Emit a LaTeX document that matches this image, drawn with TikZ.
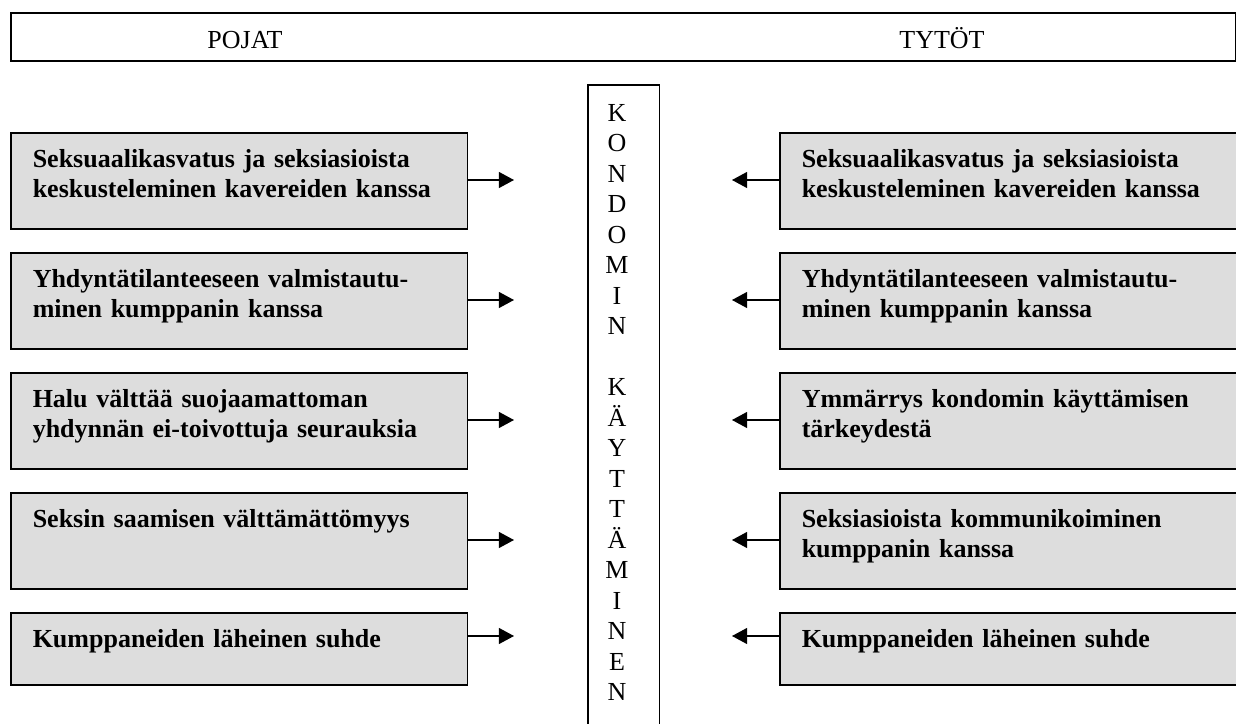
\documentclass[tikz,border=0pt]{standalone}
\usepackage{fontspec}
\setmainfont{Liberation Serif}
\usetikzlibrary{arrows.meta}
\definecolor{laatikkoharmaa}{RGB}{221,221,221}
\tikzset{
	kehys/.style={draw,line width=0.7pt,anchor=north west,inner sep=0pt},
	tekija/.style={draw,line width=0.7pt,fill=laatikkoharmaa,anchor=north west,
		inner xsep=10.15pt,inner ysep=0pt,text width=190.4pt,align=left,
		text height=16.15pt,text depth=28.15pt,
		font=\fontsize{12}{13.85}\selectfont\bfseries},
	nuoli/.style={line width=0.6pt,-{Triangle[length=7pt,width=7.4pt]}}
}

\begin{document}
\begin{tikzpicture}[x=0.4615pt,y=-0.4615pt,font=\fontsize{12}{13.85}\selectfont]

	\useasboundingbox (0,0) rectangle (1236,724);

				\node[kehys,minimum width=565.3pt,minimum height=22.15pt] (otsikko) at (10,12) {};
				\node[anchor=base] 	(pojat)		at (245,48)		{POJAT};
				\node[anchor=base] 	(tytot)		at (942,48)		{TYTÖT};

				\node[kehys,minimum width=33.2pt,minimum height=320pt] (kondomi) at (587,84) {};
				\node[align=center,inner sep=0pt,font=\fontsize{12}{14.08}\selectfont]
					(kirjaimet) at (617,402.5) {K\\O\\N\\D\\O\\M\\I\\N\\\mbox{}\\K\\Ä\\Y\\T\\T\\Ä\\M\\I\\N\\E\\N};

				% pojat
				\node[tekija]	(poika1)	at (10,132)		{Seksuaalikasvatus ja seksiasioista\\keskusteleminen kavereiden kanssa};
				\node[tekija]	(poika2)	at (10,252)		{Yhdyntätilanteeseen valmistautu-\\minen kumppanin kanssa};
				\node[tekija]	(poika3)	at (10,372)		{Halu välttää suojaamattoman\\yhdynnän ei-toivottuja seurauksia};
				\node[tekija]	(poika4)	at (10,492)		{Seksin saamisen välttämättömyys};
				\node[tekija,text depth=17.1pt]	(poika5)	at (10,612)		{Kumppaneiden läheinen suhde};

				% tytöt
				\node[tekija]	(tytto1)	at (779,132)	{Seksuaalikasvatus ja seksiasioista\\keskusteleminen kavereiden kanssa};
				\node[tekija]	(tytto2)	at (779,252)	{Yhdyntätilanteeseen valmistautu-\\minen kumppanin kanssa};
				\node[tekija]	(tytto3)	at (779,372)	{Ymmärrys kondomin käyttämisen\\tärkeydestä};
				\node[tekija]	(tytto4)	at (779,492)	{Seksiasioista kommunikoiminen\\kumppanin kanssa};
				\node[tekija,text depth=17.1pt]	(tytto5)	at (779,612)	{Kumppaneiden läheinen suhde};

				\coordinate (pk1) at (514,180);
				\coordinate (pk2) at (514,300);
				\coordinate (pk3) at (514,420);
				\coordinate (pk4) at (514,540);
				\coordinate (pk5) at (514,636);
				\coordinate (tk1) at (732,180);
				\coordinate (tk2) at (732,300);
				\coordinate (tk3) at (732,420);
				\coordinate (tk4) at (732,540);
				\coordinate (tk5) at (732,636);

				\path[nuoli]
				(poika1.east |- pk1) edge (pk1)
				(poika2.east |- pk2) edge (pk2)
				(poika3.east |- pk3) edge (pk3)
				(poika4.east |- pk4) edge (pk4)
				(poika5.east |- pk5) edge (pk5)
				(tytto1.west |- tk1) edge (tk1)
				(tytto2.west |- tk2) edge (tk2)
				(tytto3.west |- tk3) edge (tk3)
				(tytto4.west |- tk4) edge (tk4)
				(tytto5.west |- tk5) edge (tk5);

\end{tikzpicture}
\end{document}
